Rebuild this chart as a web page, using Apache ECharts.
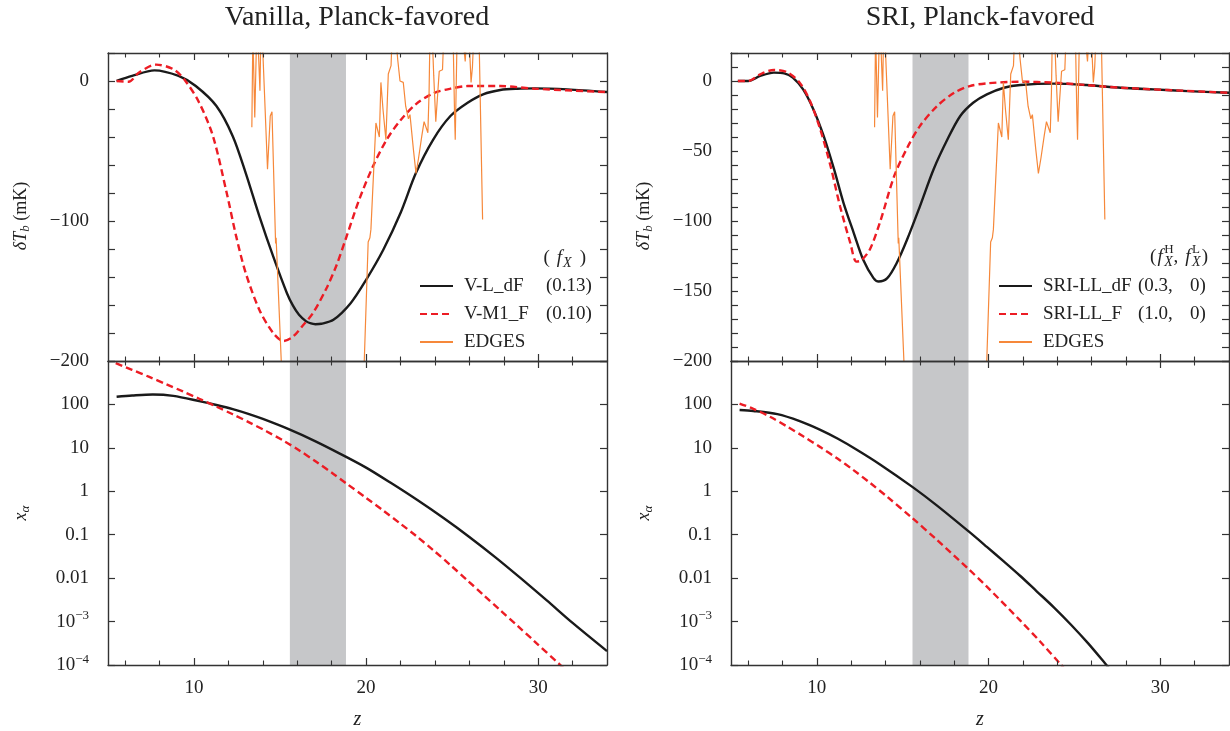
<!DOCTYPE html>
<html><head><meta charset="utf-8">
<script src="https://cdn.jsdelivr.net/npm/echarts@6/dist/echarts.min.js"></script>
<style>html,body{margin:0;padding:0;background:#fff}#c{width:1230px;height:731px}</style>
</head><body><div id="c"></div>
<script>
// ---------------- data ----------------
// Left (Vanilla) top: brightness temperature dT_b (mK) vs z
const zVLdF_T = [5.5, 6.4, 7.7, 9.1, 10.1, 11.3, 12.25, 13.0, 13.8, 14.6, 15.4, 15.75, 16.1, 16.5, 16.8, 17.05, 17.4, 18.1, 19.1, 20.0, 21.0, 22.0, 22.9, 23.9, 24.9, 25.9, 26.8, 27.8, 28.8, 29.8, 31.7, 34];
const tVLdF   = [0, 3.6, 7.6, 3.6, -3.6, -17.9, -39.4, -65.6, -96.7, -125.3, -151.6, -160.5, -167, -171.5, -173.2, -173.7, -173.4, -170.6, -158.7, -142, -120.5, -94.3, -65.6, -41.8, -25, -15.5, -9.5, -6.4, -5.5, -5.3, -6, -7.9];
const zVM1F_T = [5.5, 6.2, 6.8, 7.8, 8.8, 9.5, 10.3, 11.1, 11.9, 12.45, 13.0, 13.8, 14.6, 15.2, 15.75, 16.3, 16.9, 17.7, 18.3, 18.8, 19.6, 20.4, 21.2, 22.0, 22.9, 23.9, 24.9, 25.9, 27.8, 29.8, 34];
const tVM1F   = [0, -0.5, 6, 11.7, 8.4, 0, -15.5, -39.4, -80, -111, -137, -163.5, -180, -185.7, -182.6, -175, -166, -148, -131, -113.4, -84.7, -60.9, -41.8, -28, -16.5, -8.8, -5.5, -3.6, -3.6, -5.5, -7.9];
// Right (SRI) top
const zSdF_T = [5.4, 6.0, 6.7, 7.5, 8.1, 8.6, 9.2, 9.8, 10.4, 11.0, 11.55, 12.15, 12.7, 13.3, 13.6, 14.1, 14.65, 15.25, 16.0, 16.8, 17.6, 18.35, 19.1, 19.9, 20.9, 21.85, 23.8, 25.7, 27.7, 29.6, 31.6, 34];
const tSdF   = [0, 0, 3.6, 6, 5.5, 2.4, -6, -20.3, -39.4, -63, -87, -108.6, -127.7, -140.8, -143.2, -140.8, -130, -113.4, -89.5, -63, -41.8, -25, -15.5, -9.5, -4.8, -2.9, -1.9, -2.9, -4.8, -6, -7.2, -8.4];
const zSF_T  = [5.4, 6.0, 6.7, 7.5, 8.25, 9.0, 9.6, 10.2, 10.8, 11.35, 11.95, 12.3, 12.6, 13.1, 13.7, 14.5, 15.25, 16.0, 17.0, 18.0, 18.9, 19.9, 21.85, 23.8, 25.7, 27.7, 34];
const tSF    = [0, 0, 4.8, 7.9, 6.4, -1.2, -14.3, -34.6, -60.9, -89.5, -115.8, -129, -128, -120, -100, -68, -48, -32.2, -17.9, -8.4, -3.6, -1.7, -0.5, -1.2, -2.9, -4.8, -8.4];
// EDGES profile (same in both panels)
const zEDGES = [13.36, 13.42, 13.53, 13.65, 13.72, 13.83, 13.9, 13.97, 14.04, 14.12, 14.27, 14.43, 14.53, 14.74, 14.77, 15.12, 15.5, 16.0, 17.0, 18.0, 19.0, 19.5, 19.8, 20.12, 20.22, 20.28, 20.57, 20.67, 20.77, 20.86, 20.98, 21.15, 21.29, 21.45, 21.55, 21.7, 21.84, 21.97, 22.16, 22.3, 22.46, 22.55, 22.75, 22.9, 23.05, 23.24, 23.37, 23.59, 23.66, 23.72, 23.85, 23.93, 24.05, 24.25, 24.44, 24.55, 24.8, 25.05, 25.14, 25.18, 25.3, 25.55, 25.76, 25.86, 25.95, 26.1, 26.18, 26.3, 26.55, 26.77];
const tEDGES = [-33, 35, -26, 40, 28, -7, 45, 30, 8, 8, -63, -25, -22, -116, -112, -215, -420, -500, -490, -505, -495, -480, -235, -115, -112, -106, -30, -35, -40, -1, -20, -42, 5, 11, 45, 35, 15, 0, -1, -18, -27, -24, -49, -66, -55, -39, -29, -37, -8, 40, 30, 4, -29, 7, 8, 45, 50, 35, -23, -42, 40, 40, 14, 35, 40, -1, 10, 45, 40, -99];
// Bottom panels: x_alpha (log) vs z
const zVLdF_X = [5.5, 6.4, 7.6, 8.8, 10.3, 11.3, 12.25, 13.2, 14.0, 15.5, 17.0, 18.5, 20.0, 21.5, 23.0, 24.5, 26.0, 27.5, 29.0, 30.5, 32.0, 34];
const xVLdF   = [150, 160, 169, 157, 119, 96.8, 77.8, 59.8, 46.2, 26.9, 14.5, 7.28, 3.51, 1.504, 0.619, 0.242, 0.0889, 0.0305, 0.00985, 0.00307, 0.000931, 0.000209];
const zVM1F_X = [5.45, 6.4, 7.4, 8.4, 9.35, 10.3, 11.3, 12.25, 13.2, 14.2, 15.2, 16.1, 17.1, 18.1, 18.86, 20.0, 21.0, 22.0, 22.9, 23.9, 24.9, 25.9, 26.8, 27.8, 28.8, 29.75, 31.26, 31.8];
const xVM1F   = [889, 627, 429, 290, 199, 135, 89.1, 59.3, 38.7, 24.2, 14.6, 8.81, 4.79, 2.51, 1.51, 0.706, 0.358, 0.179, 0.0944, 0.0442, 0.02, 0.00881, 0.00418, 0.00182, 0.000796, 0.000362, 0.000102, 0.0000646];
const zSdF_X = [5.5, 6.3, 7.7, 9.0, 10.2, 11.2, 12.3, 13.7, 15.6, 17.0, 18.84, 19.9, 20.9, 21.85, 22.8, 23.8, 24.8, 25.8, 26.8, 27.3];
const xSdF   = [74.3, 70.8, 59.6, 41.2, 26.0, 16.4, 9.18, 4.1, 1.23, 0.468, 0.119, 0.0525, 0.024, 0.0112, 0.00499, 0.00213, 0.000847, 0.000315, 0.000107, 0.0000614];
const zSF_X  = [5.5, 6.3, 7.3, 8.25, 9.2, 10.2, 11.2, 12.1, 13.1, 14.1, 15.5, 17.0, 18.84, 19.9, 21.85, 23.0, 24.2, 24.6];
const xSF    = [105, 79.4, 51.3, 31.3, 18.5, 10.4, 5.66, 3.14, 1.56, 0.745, 0.253, 0.0755, 0.0161, 0.00635, 0.00105, 0.000347, 0.000103, 0.0000679];
// EDGES band in z
const bandZ = [15.57, 18.83];
// axis ticks
const zMajor = [10, 20, 30];
const zMinor = [6, 8, 12, 14, 16, 18, 22, 24, 26, 28, 32];
const titles = ['Vanilla, Planck-favored', 'SRI, Planck-favored'];

// ---------------- styling / layout ----------------
const FF = '"Liberation Serif", "DejaVu Serif", serif';
const AX = '#333';
const TXT = '#222';
const FS = 19;
const BLACK = '#1a1a1a', RED = '#ec1c24', ORANGE = '#f6883a', BAND = '#c6c7c9';
const grids = [
  {left: 108, top: 53, width: 499, height: 308},
  {left: 108, top: 361, width: 499, height: 308},
  {left: 731, top: 53, width: 498, height: 308},
  {left: 731, top: 361, width: 498, height: 308}
];
const zip = (a, b) => a.map((v, i) => [v, b[i]]);
const minus = s => String(s).replace('-', '\u2212');

function xAxesFor(gi, showLabels) {
  const base = {type: 'value', gridIndex: gi, min: 5, max: 34, splitLine: {show: false}, z: 5};
  const line = {show: true, onZero: false, lineStyle: {color: AX, width: 1.4}};
  const noLine = {show: false, onZero: false};
  const major = {show: true, inside: true, length: 7, lineStyle: {color: AX, width: 1.2}, customValues: zMajor};
  const minor = {show: true, inside: true, length: 4.5, lineStyle: {color: AX, width: 1.1}, customValues: zMinor};
  const lab = showLabels ? {show: true, customValues: zMajor, margin: 14, fontSize: FS, fontFamily: FF, color: TXT} : {show: false};
  return [
    Object.assign({}, base, {position: 'bottom', axisLine: line, axisTick: major, axisLabel: lab,
      name: showLabels ? 'z' : '', nameLocation: 'middle', nameGap: 45,
      nameTextStyle: {fontFamily: FF, fontStyle: 'italic', fontSize: 20, color: TXT}}),
    Object.assign({}, base, {position: 'bottom', axisLine: noLine, axisTick: minor, axisLabel: {show: false}}),
    Object.assign({}, base, {position: 'top', axisLine: line, axisTick: major, axisLabel: {show: false}}),
    Object.assign({}, base, {position: 'top', axisLine: noLine, axisTick: minor, axisLabel: {show: false}})
  ];
}
const nameRich = {
  i: {fontFamily: FF, fontStyle: 'italic', fontSize: 18, color: TXT, lineHeight: 22},
  n: {fontFamily: FF, fontSize: 18, color: TXT, lineHeight: 22},
  s: {fontFamily: FF, fontStyle: 'italic', fontSize: 13, color: TXT, lineHeight: 12, verticalAlign: 'bottom'}
};
function yAxesFor(gi, kind) {
  const tick = {show: true, inside: true, length: 7, lineStyle: {color: AX, width: 1.2}};
  const line = {show: true, onZero: false, lineStyle: {color: AX, width: 1.4}};
  let base, pad;
  if (kind === 'T') {
    const step = gi === 0 ? 20 : 10;
    const lstep = gi === 0 ? 100 : 50;
    base = {type: 'value', min: -200, max: 20, interval: step,
      axisLabel: {show: true, margin: 19, fontSize: FS, fontFamily: FF, color: TXT,
        formatter: v => (v <= 0 && Math.round(v) % lstep === 0) ? minus(Math.round(v)) : ''},
      name: '{i|δT}{s|b}{n| (mK)}'};
    pad = [0, 18, 0, 0];
  } else {
    base = {type: 'log', logBase: 10, min: 1e-4, max: 1e3,
      axisLabel: {show: true, margin: 19, fontSize: FS, fontFamily: FF, color: TXT,
        rich: {sup: {fontSize: 13, fontFamily: FF, color: TXT, verticalAlign: 'top', lineHeight: 13},
               b: {fontSize: FS, fontFamily: FF, color: TXT, lineHeight: 24}},
        formatter: v => {
          const e = Math.round(Math.log10(v));
          if (e >= 3) return '';
          if (e >= -2) return '{b|' + String(Math.pow(10, e).toFixed(Math.max(0, -e))) + '}';
          return '{b|10}{sup|\u2212' + (-e) + '}';
        }},
      name: '{i|x}{s|α}'};
    pad = [0, 0, 0, 0];
  }
  const common = {gridIndex: gi, splitLine: {show: false}, z: 5, axisLine: line, axisTick: tick};
  return [
    Object.assign({}, common, base, {position: 'left', nameLocation: 'middle', nameGap: 76, nameRotate: 90,
      nameTextStyle: {fontFamily: FF, fontSize: 18, color: TXT, rich: nameRich, padding: pad}}),
    Object.assign({}, common, base, {position: 'right', name: '', axisLabel: {show: false}})
  ];
}

const xAxis = [].concat(xAxesFor(0, false), xAxesFor(1, true), xAxesFor(2, false), xAxesFor(3, true));
const yAxis = [].concat(yAxesFor(0, 'T'), yAxesFor(1, 'X'), yAxesFor(2, 'T'), yAxesFor(3, 'X'));

function mk(name, gi, zs, vs, kind, band) {
  const s = {
    type: 'line', name: name, xAxisIndex: gi * 4, yAxisIndex: gi * 2,
    data: zip(zs, vs), symbol: 'none', showSymbol: false, clip: true, animation: false,
    smooth: kind === 'edges' ? false : 0.3
  };
  if (kind === 'black') s.lineStyle = {color: BLACK, width: 2.4};
  if (kind === 'red') s.lineStyle = {color: RED, width: 2.4, type: [7, 4]};
  if (kind === 'edges') s.lineStyle = {color: ORANGE, width: 1.2};
  s.itemStyle = {color: s.lineStyle.color, opacity: 0};
  if (band) s.markArea = {silent: true, itemStyle: {color: BAND, opacity: 1}, data: [[{xAxis: bandZ[0]}, {xAxis: bandZ[1]}]]};
  return s;
}
const series = [
  mk('V-L_dF', 0, zVLdF_T, tVLdF, 'black', true),
  mk('V-M1_F', 0, zVM1F_T, tVM1F, 'red'),
  mk('EDGES', 0, zEDGES, tEDGES, 'edges'),
  mk('V-L_dF ', 1, zVLdF_X, xVLdF, 'black', true),
  mk('V-M1_F ', 1, zVM1F_X, xVM1F, 'red'),
  mk('SRI-LL_dF', 2, zSdF_T, tSdF, 'black', true),
  mk('SRI-LL_F', 2, zSF_T, tSF, 'red'),
  mk('EDGES', 2, zEDGES, tEDGES, 'edges'),
  mk('SRI-LL_dF ', 3, zSdF_X, xSdF, 'black', true),
  mk('SRI-LL_F ', 3, zSF_X, xSF, 'red')
];

const legText = {
  'V-L_dF': '{a|V-L_dF}{b|(0.13)}',
  'V-M1_F': '{a|V-M1_F}{b|(0.10)}',
  'SRI-LL_dF': '{a2|SRI-LL_dF}{b2|(0.3,}{c|0)}',
  'SRI-LL_F': '{a2|SRI-LL_F}{b2|(1.0,}{c|0)}',
  'EDGES': '{a|EDGES}'
};
const legRich = {
  a: {fontFamily: FF, fontSize: FS, color: TXT, width: 82, padding: [0, 0, 0, 6], lineHeight: 20},
  b: {fontFamily: FF, fontSize: FS, color: TXT, lineHeight: 20},
  a2: {fontFamily: FF, fontSize: FS, color: TXT, width: 95, padding: [0, 0, 0, 6], lineHeight: 20},
  b2: {fontFamily: FF, fontSize: FS, color: TXT, width: 52, lineHeight: 20},
  c: {fontFamily: FF, fontSize: FS, color: TXT, lineHeight: 20}
};
function legend(left, names) {
  return {orient: 'vertical', left: left, top: 276, padding: 0, itemWidth: 33, itemHeight: 14, itemGap: 8,
    selectedMode: false, data: names, formatter: n => legText[n],
    itemStyle: {opacity: 0},
    textStyle: {fontFamily: FF, fontSize: FS, color: TXT, lineHeight: 20, rich: legRich}};
}

// ---- header texts (legend titles) measured with canvas ----
const mctx = document.createElement('canvas').getContext('2d');
const fstr = (s, it) => (it ? 'italic ' : '') + s + 'px ' + FF;
const tw = (t, f) => { mctx.font = f; return mctx.measureText(t).width; };
function header(pieces, right, ymid) {
  const ws = pieces.map(p => (p.gap || 0) + (p.stack ? Math.max.apply(null, p.stack.map(q => tw(q.t, fstr(q.s, q.it)))) : tw(p.t, fstr(p.s, p.it))));
  let x = right - ws.reduce((a, b) => a + b, 0);
  const els = [];
  pieces.forEach((p, i) => {
    (p.stack || [p]).forEach(q => els.push({type: 'text', x: x + (p.gap || 0), y: ymid + (q.dy || 0), silent: true,
      style: {text: q.t, font: fstr(q.s, q.it), fill: TXT, textAlign: 'left', align: 'left', textVerticalAlign: 'middle', verticalAlign: 'middle'}}));
    x += ws[i];
  });
  return els;
}
const graphics = [].concat(
  header([{t: '(', s: 19}, {t: 'f', s: 19, it: true, gap: 7}, {t: 'X', s: 14, it: true, dy: 5, gap: 1}, {t: ')', s: 19, gap: 8}], 586, 258),
  header([{t: '(', s: 19}, {t: 'f', s: 19, it: true, gap: 1}, {stack: [{t: 'H', s: 13, dy: -7}, {t: 'X', s: 14, it: true, dy: 5}], gap: 1.5},
          {t: ',', s: 19}, {t: 'f', s: 19, it: true, gap: 7}, {stack: [{t: 'L', s: 13, dy: -7}, {t: 'X', s: 14, it: true, dy: 5}], gap: 1.5},
          {t: ')', s: 19, gap: 1}], 1208, 257),
  [
    {type: 'text', x: 357, y: 18, silent: true, style: {text: titles[0], font: '28px ' + FF, fill: TXT, textAlign: 'center', align: 'center', textVerticalAlign: 'middle', verticalAlign: 'middle'}},
    {type: 'text', x: 980, y: 18, silent: true, style: {text: titles[1], font: '28px ' + FF, fill: TXT, textAlign: 'center', align: 'center', textVerticalAlign: 'middle', verticalAlign: 'middle'}}
  ]
);

const chart = echarts.init(document.getElementById('c'), null, {renderer: 'canvas', devicePixelRatio: 1});
chart.setOption({
  backgroundColor: '#fff',
  animation: false,
  grid: grids,
  xAxis: xAxis,
  yAxis: yAxis,
  legend: [legend(419, ['V-L_dF', 'V-M1_F', 'EDGES']), legend(998, ['SRI-LL_dF', 'SRI-LL_F', 'EDGES'])],
  series: series,
  graphic: {elements: graphics}
});
</script></body></html>
